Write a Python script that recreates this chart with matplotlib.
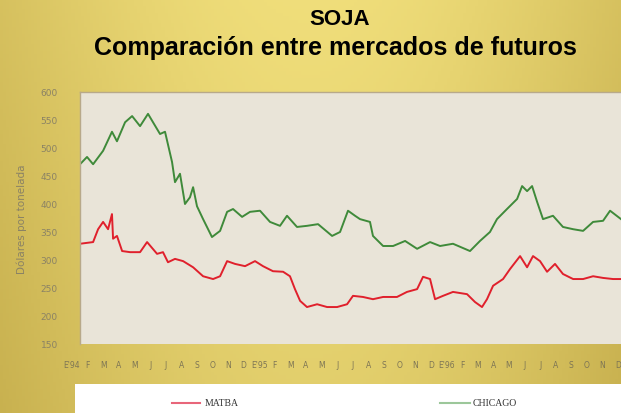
import numpy as np
import matplotlib.pyplot as plt
from matplotlib.lines import Line2D

# posicion en meses (0 = enero 1994) y precios en dolares por tonelada
chicago_mes = [0.51, 0.96, 1.35, 1.99, 2.56, 2.88, 3.40, 3.85, 4.36, 4.87, 5.19, 5.64,
               5.96, 6.41, 6.60, 6.92, 7.24, 7.56, 7.76, 8.01, 8.40, 8.97, 9.49, 9.94,
               10.32, 10.90, 11.41, 12.05, 12.69, 13.33, 13.78, 14.42, 15.06, 15.77, 16.67,
               17.18, 17.69, 18.14, 18.46, 19.10, 19.29, 19.94, 20.58, 21.35, 22.12, 22.95,
               23.59, 24.42, 25.51, 26.15, 26.79, 27.24, 27.88, 28.53, 28.85, 29.17, 29.49,
               29.81, 30.19, 30.83, 31.47, 32.12, 32.76, 33.40, 34.04, 34.49, 35.19]
chicago = [471, 484, 471, 495, 529, 512, 546, 557, 539, 561, 546, 525,
           529, 475, 439, 454, 400, 412, 430, 396, 373, 341, 352, 386,
           391, 377, 386, 388, 368, 361, 379, 359, 361, 364, 343,
           350, 388, 379, 373, 368, 343, 325, 325, 334, 320, 332,
           325, 329, 316, 334, 350, 373, 391, 409, 432, 423, 432,
           404, 373, 379, 359, 355, 352, 368, 370, 388, 373]

matba_mes = [0.51, 1.35, 1.67, 1.99, 2.31, 2.56, 2.63, 2.88, 3.21, 3.72, 4.36, 4.81,
             5.45, 5.83, 6.15, 6.60, 7.12, 7.76, 8.40, 9.04, 9.49, 9.94, 10.45, 11.09,
             11.73, 12.24, 12.88, 13.53, 13.97, 14.29, 14.62, 15.06, 15.71, 16.35, 16.99,
             17.63, 18.01, 18.65, 19.29, 19.94, 20.83, 21.47, 22.12, 22.50, 22.95, 23.27,
             23.78, 24.42, 25.32, 25.83, 26.28, 26.60, 26.99, 27.63, 28.08, 28.72, 29.17,
             29.55, 30.00, 30.45, 30.96, 31.47, 32.12, 32.76, 33.40, 34.04, 34.68, 35.19]
matba = [329, 332, 355, 368, 355, 382, 338, 343, 316, 314, 314, 332,
         311, 314, 296, 302, 298, 287, 271, 266, 271, 298, 293, 289,
         298, 289, 280, 279, 271, 248, 227, 216, 221, 216, 216,
         221, 236, 234, 230, 234, 234, 243, 248, 270, 266, 230,
         236, 243, 239, 225, 216, 230, 254, 266, 284, 307, 287,
         307, 298, 279, 293, 275, 266, 266, 271, 268, 266, 266]

meses = ["E'94", "F", "M", "A", "M", "J", "J", "A", "S", "O", "N", "D",
         "E'95", "F", "M", "A", "M", "J", "J", "A", "S", "O", "N", "D",
         "E'96", "F", "M", "A", "M", "J", "J", "A", "S", "O", "N", "D"]
yticks = [150, 200, 250, 300, 350, 400, 450, 500, 550, 600]

fig = plt.figure(figsize=(6.21, 4.14), dpi=100)

# fondo dorado
bg = fig.add_axes([0, 0, 1, 1])
gx = np.linspace(0, 1, 200)
gy = np.linspace(0, 1, 120)
X, Y = np.meshgrid(gx, gy)
t = np.clip(0.3 + 0.45 * np.sin(np.pi * X) + 0.25 * Y, 0, 1)
dark = np.array([0.72, 0.62, 0.24])
light = np.array([0.94, 0.87, 0.48])
img = dark[None, None, :] * (1 - t[..., None]) + light[None, None, :] * t[..., None]
bg.imshow(img, extent=[0, 1, 0, 1], aspect='auto', origin='lower')
bg.axis('off')

fig.text(0.547, 0.954, "SOJA", ha='center', va='center', fontsize=16,
         fontweight='bold', family='Liberation Sans')
fig.text(0.54, 0.884, "Comparación entre mercados de futuros", ha='center', va='center',
         fontsize=18, fontweight='bold', family='Liberation Sans')

ax = fig.add_axes([80 / 621, 1 - 345 / 414, 541 / 621, 252 / 414])
ax.set_facecolor('#e9e4d8')
ax.plot(chicago_mes, chicago, color='#3f8a3a', lw=1.4)
ax.plot(matba_mes, matba, color='#e0202c', lw=1.4)
ax.set_xlim(0.51, 35.19)
ax.set_ylim(150, 600)
ax.set_yticks(yticks)
ax.set_yticklabels([str(v) for v in yticks], fontsize=6.5, color='#8a8265')
ax.tick_params(axis='y', length=0, pad=16)
ax.set_xticks([])
for s in ['right', 'bottom']:
    ax.spines[s].set_visible(False)
for s in ['left', 'top']:
    ax.spines[s].set_color('#b8a98a')
    ax.spines[s].set_linewidth(1.0)
ax.set_ylabel("Dólares por tonelada", fontsize=7.5, color='#8a8265', labelpad=10)

for k, m in enumerate(meses):
    ax.text(k, -0.08, m, transform=ax.get_xaxis_transform(), ha='center', va='center',
            fontsize=5.5, color='#7d7555', clip_on=False)

# leyenda
lg = fig.add_axes([75 / 621, 0, 546 / 621, 29 / 414])
lg.set_xlim(0, 546)
lg.set_ylim(0, 29)
lg.set_facecolor('white')
lg.set_xticks([])
lg.set_yticks([])
for s in lg.spines.values():
    s.set_visible(False)
lg.add_line(Line2D([97, 125], [10, 10], color='#e8667a', lw=1.5))
lg.text(130, 10, "MATBA", fontsize=7, family='Liberation Serif', va='center', color='#333333')
lg.add_line(Line2D([365, 395], [10, 10], color='#9cc79a', lw=1.5))
lg.text(398, 10, "CHICAGO", fontsize=7, family='Liberation Serif', va='center', color='#333333')

fig.savefig("out.png", dpi=100)
